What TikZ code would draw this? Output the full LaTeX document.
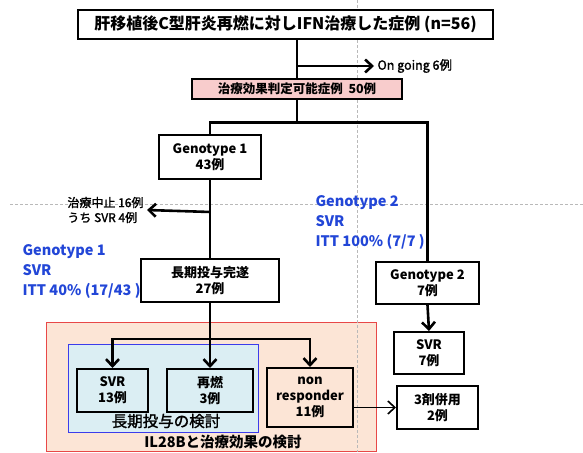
\documentclass[tikz,border=0pt]{standalone}
\usepackage{fontspec}
\setmainfont{Noto Sans CJK JP}
\newfontfamily\midfont{Noto Sans CJK JP}[FakeBold=1.5]
\usetikzlibrary{positioning,arrows.meta,calc}
\definecolor{judgepink}{RGB}{248,204,204}
\definecolor{regionpeach}{RGB}{252,229,214}
\definecolor{regionred}{RGB}{232,72,72}
\definecolor{regionblue}{RGB}{219,238,243}
\definecolor{edgeblue}{RGB}{60,60,235}
\definecolor{gtblue}{RGB}{34,70,215}

\begin{document}
\begin{tikzpicture}[x=1pt,y=-1pt,
    box/.style={draw,line width=2pt,fill=white,align=center,inner sep=2pt,
      font=\fontsize{13}{16}\selectfont\bfseries},
    inbox/.style={box,fill=none},
    link/.style={line width=2.6pt},
    arrow/.style={link,-{Straight Barb[length=7pt,width=13pt]}},
    guide/.style={gray!55,thin,dash pattern=on 3pt off 2pt},
    result/.style={anchor=north west,align=left,text=gtblue,
      font=\fontsize{14.5}{20}\selectfont\bfseries}]
  \useasboundingbox (0,0) rectangle (583,452);

  % study regions
  \filldraw[draw=regionred,fill=regionpeach,line width=1pt] (46,322) rectangle (376,451.5);
  \filldraw[draw=edgeblue,fill=regionblue,line width=1pt] (68,344) rectangle (258,432);
  \draw[guide] (10,204) -- (583,204);
  \draw[guide] (357,0) -- (357,452);
  \node[font=\fontsize{15.5}{18}\selectfont\midfont] (longterm) at (166,421) {長期投与の検討};
  \node[font=\fontsize{14.5}{18}\selectfont\bfseries] (il28b) at (223,442) {IL28Bと治療効果の検討};

  % flow boxes
  \node[box,font=\fontsize{16}{18}\selectfont\bfseries,minimum width=415pt,minimum height=29pt]
    (title) at (285.5,24.5) {肝移植後C型肝炎再燃に対しIFN治療した症例 (n=56)};
  \node[box,font=\fontsize{12.5}{15}\selectfont\bfseries,fill=judgepink,line width=1.2pt,
    minimum width=210pt,minimum height=20pt,inner sep=1pt]
    (judge) at (297,89) {治療効果判定可能症例\ \ 50例};
  \node[box,minimum width=102pt,minimum height=44pt] (geno1) at (210,157) {Genotype 1\\43例};
  \node[box,minimum width=138pt,minimum height=43pt] (done) at (210,280.5) {長期投与完遂\\27例};
  \node[box,minimum width=103pt,minimum height=42pt] (geno2) at (427.5,283) {Genotype 2\\7例};
  \node[box,minimum width=70pt,minimum height=42pt] (svrtwo) at (429,353) {SVR\\7例};
  \node[box,minimum width=81pt,minimum height=43pt] (triple) at (437.5,407.5) {3剤併用\\2例};
  \node[inbox,minimum width=71pt,minimum height=43pt] (svrone) at (112.5,390.5) {SVR\\13例};
  \node[inbox,minimum width=86pt,minimum height=43pt] (relapse) at (210,390.5) {再燃\\3例};
  \node[inbox,minimum width=86pt,minimum height=59pt] (nonresp) at (310,397.5) {non\\responder\\11例};

  % side labels
  \node[anchor=west,font=\fontsize{12.5}{15}\selectfont\midfont] (ongoing) at (374,66) {On going 6例};
  \node[anchor=east,align=left,font=\fontsize{12}{15}\selectfont\midfont] (stop) at (147,210)
    {治療中止 16例\\うち SVR 4例};
  \node[result] (gtwores) at (312,192) {Genotype 2\\SVR\\ITT 100\% (7/7 )};
  \node[result] (goneres) at (19,241) {Genotype 1\\SVR\\ITT 40\% (17/43 )};

  % connectors
  \draw[link] (judge.north |- title.south) -- (judge.north);
  \draw[arrow] (judge.north |- ongoing.west) -- (ongoing.west);
  \draw[link] (judge.south) -- ++(0,23) coordinate (split);
  \draw[link] (geno1.north) |- (split) -| (geno2.north);
  \draw[link] (geno1.south) -- (done.north);
  \draw[arrow] ($(geno1.south)!0.41!(done.north)$) -- (stop.east);
  \draw[arrow] (geno2.south) -- (svrtwo.north);
  \draw[link] (done.south) -- ++(0,36) coordinate (fork);
  \draw[arrow] (fork) -- (relapse.north);
  \draw[arrow] (fork) -| (svrone.north);
  \draw[arrow] (fork) -| (nonresp.north);
  \draw[arrow,line width=1.6pt] (nonresp.east |- triple.west) -- (triple.west);
\end{tikzpicture}
\end{document}
